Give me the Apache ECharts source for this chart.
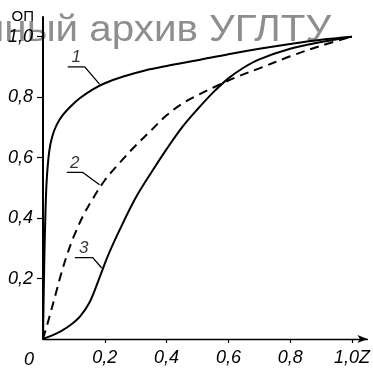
<!DOCTYPE html>
<html>
<head>
<meta charset="utf-8">
<script src="https://cdn.jsdelivr.net/npm/echarts@6/dist/echarts.min.js"></script>
<style>
  html, body { margin: 0; padding: 0; background: #fff; }
  #chart { width: 373px; height: 369px; }
</style>
</head>
<body>
<div id="chart"></div>
<script>
// Relative value (ОП) against Z for three curves
const zCurve1  = [0, 0.004, 0.008, 0.012, 0.02, 0.03, 0.045, 0.065, 0.09, 0.12, 0.16, 0.2, 0.26, 0.33, 0.4, 0.5, 0.6, 0.7, 0.8, 0.9, 1.0];
const opCurve1 = [0, 0.25, 0.42, 0.525, 0.62, 0.67, 0.71, 0.742, 0.77, 0.797, 0.825, 0.846, 0.868, 0.888, 0.903, 0.922, 0.942, 0.96, 0.976, 0.99, 1.0];

const zCurve2  = [0, 0.02, 0.04, 0.06, 0.08, 0.1, 0.13, 0.16, 0.2, 0.25, 0.3, 0.35, 0.4, 0.45, 0.5, 0.56, 0.63, 0.7, 0.8, 0.9, 1.0];
const opCurve2 = [0, 0.07, 0.145, 0.22, 0.285, 0.34, 0.408, 0.462, 0.525, 0.585, 0.64, 0.69, 0.74, 0.778, 0.806, 0.836, 0.868, 0.895, 0.935, 0.97, 1.0];

const zCurve3  = [0, 0.03, 0.06, 0.09, 0.12, 0.15, 0.18, 0.21, 0.25, 0.3, 0.35, 0.4, 0.45, 0.5, 0.55, 0.6, 0.65, 0.7, 0.8, 0.9, 1.0];
const opCurve3 = [0, 0.012, 0.027, 0.047, 0.075, 0.12, 0.195, 0.275, 0.365, 0.467, 0.55, 0.628, 0.7, 0.76, 0.815, 0.862, 0.898, 0.925, 0.96, 0.982, 1.0];

const xTicks = [0.2, 0.4, 0.6, 0.8, 1.0];
const yTicks = [0.2, 0.4, 0.6, 0.8, 1.0];

// Curve numbers with their leader lines (data coordinates)
const tagLabels = ['1', '2', '3'];
const tagLeaders = [
  [[0.08, 0.9], [0.135, 0.9], [0.183, 0.843]],
  [[0.077, 0.551], [0.129, 0.551], [0.183, 0.51]],
  [[0.103, 0.269], [0.161, 0.269], [0.19, 0.235]]
];

const FONT = 'Liberation Sans, Arial, sans-serif';
const fmt = v => v.toFixed(1).replace('.', ',');
const pairs = (xs, ys) => xs.map((x, i) => [x, ys[i]]);

const chart = echarts.init(document.getElementById('chart'), null, { renderer: 'canvas' });

const curveStyle = (type) => ({
  type: 'line',
  smooth: 0.35,
  symbol: 'none',
  z: 3,
  lineStyle: { color: '#000', width: 2, type: type },
  animation: false
});

const series = [
  Object.assign(curveStyle('solid'), { name: '1', data: pairs(zCurve1, opCurve1) }),
  Object.assign(curveStyle([9, 6]), { name: '2', data: pairs(zCurve2, opCurve2) }),
  Object.assign(curveStyle('solid'), { name: '3', data: pairs(zCurve3, opCurve3) })
];

tagLeaders.forEach((pts, i) => {
  series.push({
    type: 'line',
    data: pts,
    symbol: 'none',
    silent: true,
    z: 4,
    lineStyle: { color: '#000', width: 1.3 },
    animation: false
  });
  series.push({
    type: 'scatter',
    symbolSize: 0,
    silent: true,
    z: 4,
    data: [[(pts[0][0] + pts[1][0]) / 2, pts[0][1]]],
    label: {
      show: true,
      position: 'top',
      distance: 1,
      formatter: tagLabels[i],
      color: '#000',
      fontFamily: FONT,
      fontStyle: 'italic',
      fontSize: 17
    },
    animation: false
  });
});

chart.setOption({
  backgroundColor: '#fff',
  animation: false,
  grid: { left: 43, right: 3, top: 17, bottom: 30, containLabel: false },
  xAxis: {
    type: 'value',
    min: 0,
    max: 1.05,
    interval: 0.2,
    axisLine: { show: true, onZero: false, lineStyle: { color: '#000', width: 1.3 },
                symbol: ['none', 'arrow'], symbolSize: [6, 10] },
    axisTick: { show: true, length: 4, inside: false, customValues: xTicks,
                lineStyle: { color: '#000', width: 1.2 } },
    axisLabel: { show: true, customValues: xTicks, margin: 10, color: '#000',
                 fontFamily: FONT, fontStyle: 'italic', fontSize: 18,
                 formatter: v => (Math.abs(v - 1) < 1e-9 ? fmt(v) + 'Z' : fmt(v)) },
    splitLine: { show: false }
  },
  yAxis: {
    type: 'value',
    min: 0,
    max: 1.065,
    interval: 0.2,
    name: 'ОП',
    nameLocation: 'end',
    nameGap: 0,
    nameTextStyle: { color: '#000', fontFamily: 'Liberation Sans Narrow, ' + FONT, fontSize: 15,
                     align: 'right', verticalAlign: 'middle', padding: [0, 9, 0, 0] },
    axisLine: { show: true, onZero: false, lineStyle: { color: '#000', width: 2 } },
    axisTick: { show: true, length: 6, inside: false, customValues: yTicks,
                lineStyle: { color: '#000', width: 1.2 } },
    axisLabel: { show: true, customValues: yTicks, margin: 10, color: '#000',
                 fontFamily: FONT, fontStyle: 'italic', fontSize: 18,
                 formatter: v => fmt(v) },
    splitLine: { show: false }
  },
  graphic: [
    {
      type: 'text',
      z: -10,
      x: 331,
      y: 31,
      scaleX: 1.09,
      silent: true,
      style: {
        text: 'Электронный архив УГЛТУ',
        fill: '#8e8e8e',
        font: '37px ' + FONT,
        textAlign: 'right',
        textVerticalAlign: 'middle'
      }
    },
    {
      type: 'text',
      x: 29,
      y: 360,
      silent: true,
      style: {
        text: '0',
        fill: '#000',
        font: 'italic 18px ' + FONT,
        textAlign: 'center',
        textVerticalAlign: 'middle'
      }
    }
  ],
  series: series
});
</script>
</body>
</html>
